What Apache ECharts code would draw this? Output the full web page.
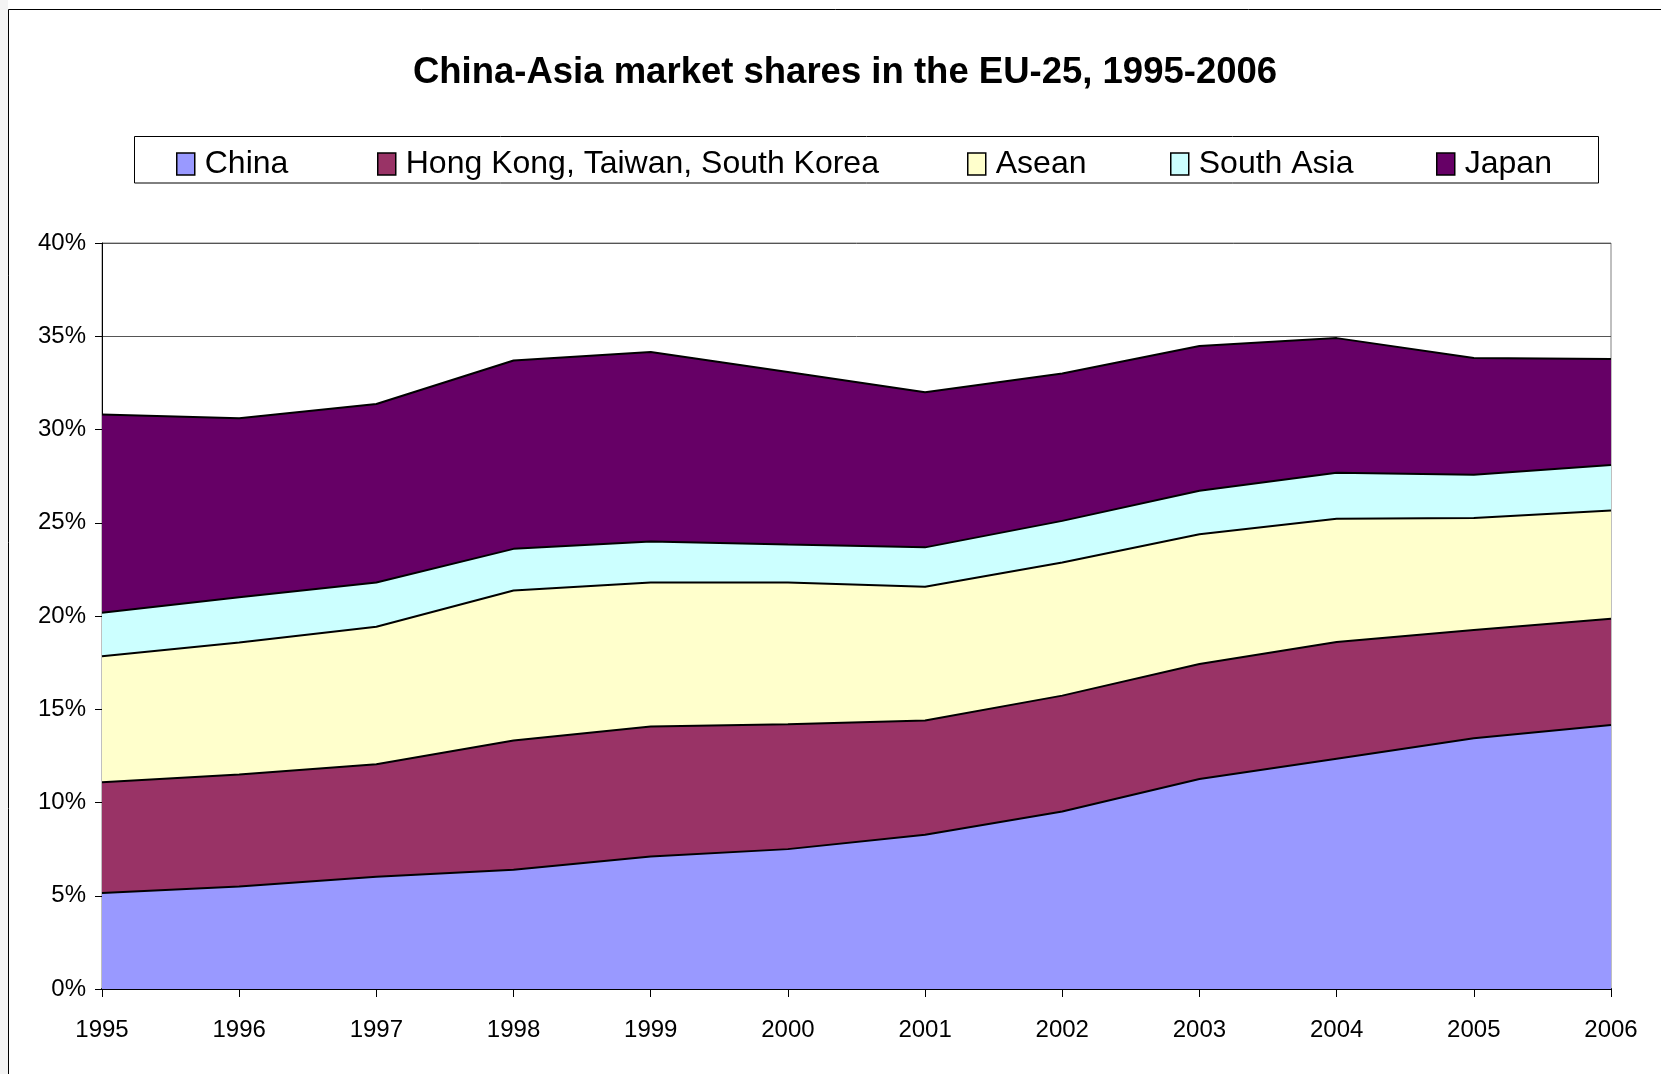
<!DOCTYPE html>
<html>
<head>
<meta charset="utf-8">
<script src="https://cdn.jsdelivr.net/npm/echarts@6/dist/echarts.min.js"></script>
<style>
html,body{margin:0;padding:0;background:#fff;}
#chart{width:1661px;height:1074px;}
</style>
</head>
<body>
<div id="chart"></div>
<script>
const years = ['1995','1996','1997','1998','1999','2000','2001','2002','2003','2004','2005','2006'];
const seriesNames = ['China','Hong Kong, Taiwan, South Korea','Asean','South Asia','Japan'];
const china     = [5.15, 5.50, 6.02, 6.40, 7.10, 7.50, 8.27, 9.52, 11.26, 12.35, 13.45, 14.15];
const hkTwKr    = [5.93, 6.00, 6.03, 6.92, 6.97, 6.69, 6.13, 6.21, 6.17, 6.25, 5.80, 5.70];
const asean     = [6.76, 7.08, 7.37, 8.05, 7.73, 7.61, 7.17, 7.14, 6.95, 6.62, 6.00, 5.81];
const southAsia = [2.34, 2.42, 2.38, 2.23, 2.20, 2.03, 2.11, 2.23, 2.34, 2.46, 2.32, 2.44];
const japan     = [10.62, 9.60, 9.57, 10.10, 10.15, 9.25, 8.32, 7.90, 7.76, 7.22, 6.26, 5.68];
const seriesData = [china, hkTwKr, asean, southAsia, japan];
const colors = ['#9999FF','#993366','#FFFFCC','#CCFFFF','#660066'];

const FONT = '"Liberation Sans", Arial, sans-serif';
const legendLefts = [176, 377, 967, 1170, 1436];

const chart = echarts.init(document.getElementById('chart'), null, {renderer:'canvas'});
const option = {
  backgroundColor: '#fff',
  animation: false,
  title: {
    text: 'China-Asia market shares in the EU-25, 1995-2006',
    left: 845, top: 54, textAlign: 'center', padding: 0,
    textStyle: {fontFamily: FONT, fontSize: 36.5, fontWeight: 'bold', color: '#000'}
  },
  graphic: [
    {type:'rect', shape:{x:0, y:0, width:8, height:1074}, style:{fill:'#f4f4f4'}, silent:true},
    {type:'rect', shape:{x:8.5, y:9.5, width:1700, height:1100}, style:{fill:null, stroke:'#000', lineWidth:1}, silent:true},
    {type:'rect', shape:{x:134.5, y:136.5, width:1464, height:46.5}, style:{fill:'#fff', stroke:'#000', lineWidth:1}, silent:true, z:-1}
  ],
  legend: seriesNames.map((n, i) => ({
    data: [n],
    left: legendLefts[i],
    top: 148,
    padding: 0,
    icon: 'rect',
    itemWidth: 18,
    itemHeight: 22,
    itemStyle: {borderColor:'#000', borderWidth:1.5},
    textStyle: {fontFamily: FONT, fontSize: 32, color:'#000', padding:[0,0,0,5]},
    selectedMode: false
  })),
  grid: {
    left: 102, right: 50, top: 243, bottom: 85,
    show: true, borderColor: '#808080', borderWidth: 1, backgroundColor: 'transparent'
  },
  xAxis: {
    type: 'category',
    data: years,
    boundaryGap: false,
    axisLine: {lineStyle: {color:'#000', width:2}},
    axisTick: {show:true, length:8, lineStyle:{color:'#000', width:1}},
    axisLabel: {fontFamily: FONT, fontSize: 24, color:'#000', margin: 29}
  },
  yAxis: {
    type: 'value',
    min: 0, max: 40, interval: 5,
    axisLine: {show:true, lineStyle: {color:'#000', width:1}},
    axisTick: {show:true, length:7, lineStyle:{color:'#000', width:1}},
    axisLabel: {fontFamily: FONT, fontSize: 24, color:'#000', margin: 16, formatter: '{value}%'},
    splitLine: {show:true, lineStyle:{color:'#555', width:1}}
  },
  series: seriesNames.map((n, i) => ({
    name: n,
    type: 'line',
    stack: 'total',
    data: seriesData[i],
    symbol: 'none',
    showSymbol: false,
    color: colors[i],
    itemStyle: {color: colors[i]},
    lineStyle: {color:'#000', width:2},
    areaStyle: {color: colors[i], opacity: 1},
    emphasis: {disabled: true}
  }))
};
chart.setOption(option);
</script>
</body>
</html>
